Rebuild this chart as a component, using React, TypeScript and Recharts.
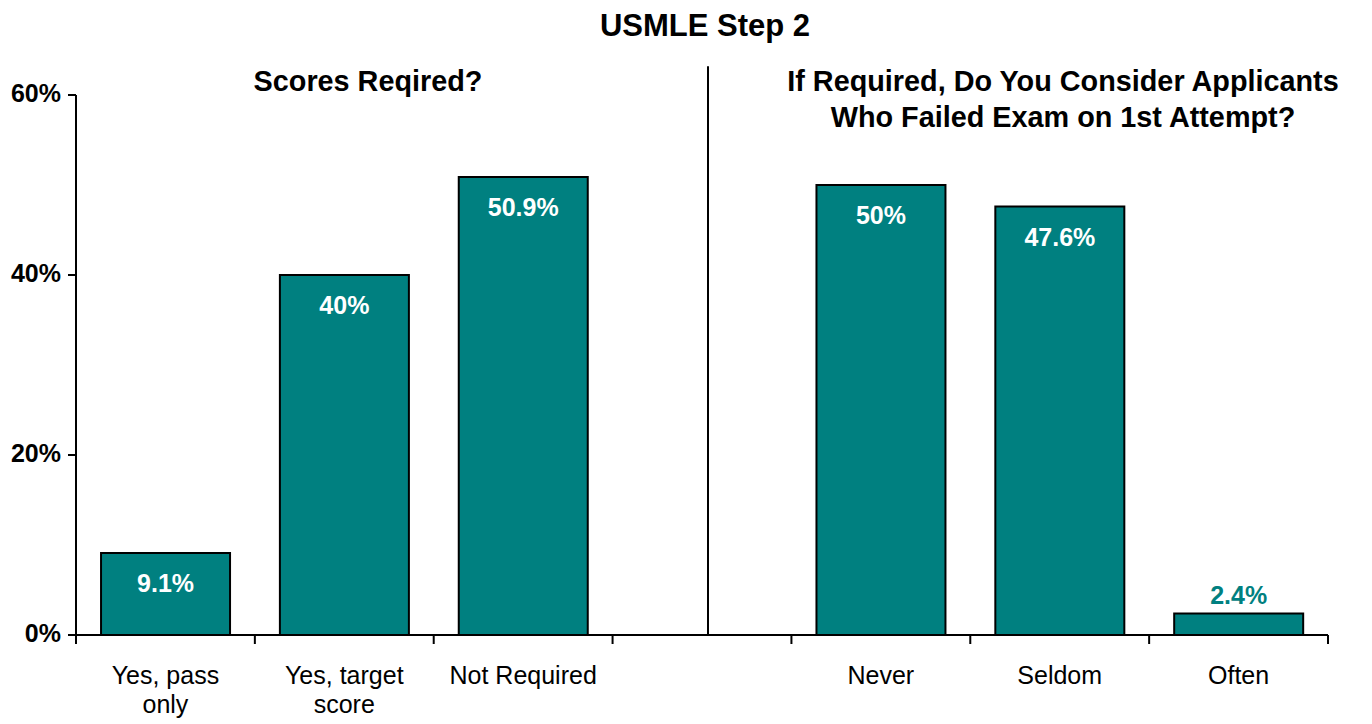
import React from "react";
import { BarChart, Bar, XAxis, YAxis, ReferenceLine, LabelList } from "recharts";

const categories = ["Yes, pass\nonly", "Yes, target\nscore", "Not Required", " ", "Never", "Seldom", "Often"];
const values: (number | null)[] = [9.1, 40, 50.9, null, 50, 47.6, 2.4];
const valueLabels = ["9.1%", "40%", "50.9%", "", "50%", "47.6%", "2.4%"];
const yTicks = [0, 20, 40, 60];
const title = "USMLE Step 2";
const leftSubtitle = ["Scores Reqired?"];
const rightSubtitle = ["If Required, Do You Consider Applicants", "Who Failed Exam on 1st Attempt?"];
const dividerCategory = " ";

const data = categories.map((c, i) => ({ name: c, value: values[i], label: valueLabels[i] }));

const FONT = "'Liberation Sans', Arial, sans-serif";
const TEAL = "#008080";

const XTick = (props: any) => {
  const { x, y, payload } = props;
  const lines = String(payload.value).split("\n");
  return (
    <g>
      {lines.map((l: string, i: number) => (
        <text key={i} x={x} y={y + 41 + i * 29} textAnchor="middle" fontFamily={FONT} fontSize={25} fill="#000">
          {l}
        </text>
      ))}
    </g>
  );
};

const BarLabel = (props: any) => {
  const { x, y, width, height, value } = props;
  if (!value) return null;
  const cx = x + width / 2;
  if (height < 40) {
    return (
      <text x={cx} y={y - 9} textAnchor="middle" fontFamily={FONT} fontWeight="bold" fontSize={25} fill={TEAL}>
        {value}
      </text>
    );
  }
  return (
    <text x={cx} y={y + 39} textAnchor="middle" fontFamily={FONT} fontWeight="bold" fontSize={25} fill="#fff">
      {value}
    </text>
  );
};

const DividerShape = (props: any) => {
  const { x1, y1, x2, y2 } = props;
  return <line x1={x1 + 6} y1={y1} x2={x2 + 6} y2={y2} stroke="#000" strokeWidth={2} />;
};

export default function App() {
  return (
    <div style={{ position: "absolute", left: 0, top: 0, width: 1372, height: 724, background: "#fff" }}>
      <BarChart
        width={1372}
        height={724}
        data={data}
        margin={{ top: 95, right: 44, bottom: 9, left: 0 }}
        barCategoryGap="14%"
      >
        <XAxis
          dataKey="name"
          height={80}
          interval={0}
          axisLine={{ stroke: "#000", strokeWidth: 2 }}
          tickLine={false}
          tick={<XTick />}
        />
        <YAxis
          width={76}
          domain={[0, 60]}
          ticks={yTicks}
          tickFormatter={(v: number) => `${v}%`}
          axisLine={{ stroke: "#000", strokeWidth: 2 }}
          tickLine={{ stroke: "#000", strokeWidth: 2 }}
          tickSize={8}
          tickMargin={7}
          tick={{ fontFamily: FONT, fontWeight: "bold", fontSize: 25, fill: "#000", dy: -2 }}
        />
        {categories.map((c) => (
          <ReferenceLine
            key={"s" + c}
            segment={[{ x: c, y: 0 }, { x: c, y: -1 }]}
            position="start"
            stroke="#000"
            strokeWidth={2}
            ifOverflow="visible"
          />
        ))}
        <ReferenceLine
          segment={[{ x: categories[categories.length - 1], y: 0 }, { x: categories[categories.length - 1], y: -1 }]}
          position="end"
          stroke="#000"
          strokeWidth={2}
          ifOverflow="visible"
        />
        <ReferenceLine
          segment={[{ x: dividerCategory, y: 0 }, { x: dividerCategory, y: 63.2 }]}
          position="middle"
          ifOverflow="visible"
          shape={<DividerShape />}
        />
        <Bar dataKey="value" fill={TEAL} stroke="#000" strokeWidth={2} isAnimationActive={false}>
          <LabelList dataKey="label" content={<BarLabel />} />
        </Bar>
      </BarChart>
      <svg width={1372} height={724} style={{ position: "absolute", left: 0, top: 0, pointerEvents: "none" }}>
        <text x={705} y={36} textAnchor="middle" fontFamily={FONT} fontWeight="bold" fontSize={31} fill="#000">
          {title}
        </text>
        {leftSubtitle.map((t, i) => (
          <text key={i} x={368} y={91 + i * 36} textAnchor="middle" fontFamily={FONT} fontWeight="bold" fontSize={28.8} fill="#000">
            {t}
          </text>
        ))}
        {rightSubtitle.map((t, i) => (
          <text key={i} x={1063} y={91 + i * 36} textAnchor="middle" fontFamily={FONT} fontWeight="bold" fontSize={28.8} fill="#000">
            {t}
          </text>
        ))}
      </svg>
    </div>
  );
}
